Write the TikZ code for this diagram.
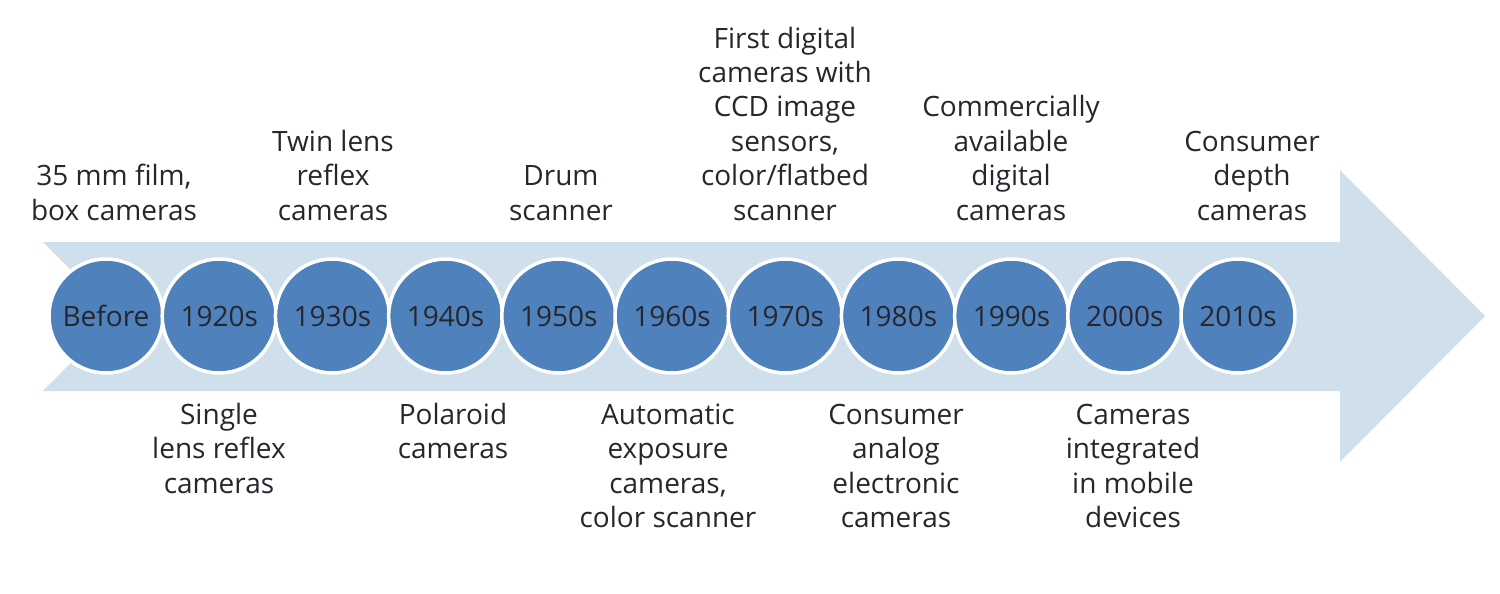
\documentclass[tikz,border=0pt]{standalone}
\usepackage{fontspec}
\setmainfont{Open Sans}
\definecolor{arrowblue}{RGB}{207,224,236}
\definecolor{circblue}{RGB}{79,129,189}
\definecolor{txt}{RGB}{38,38,45}
\begin{document}
\begin{tikzpicture}[x=0.5pt,y=-0.5pt,
  lbl/.style={align=center, anchor=base, inner sep=0pt, text=txt, font=\fontsize{14pt}{17.2pt}\selectfont},
  era/.style={circle, fill=circblue, draw=white, line width=1.75pt, minimum size=57pt, inner sep=0pt, text=txt, font=\fontsize{14pt}{16pt}\selectfont}]
\useasboundingbox (0,0) rectangle (1500,594);
\fill[arrowblue] (43,242) -- (1340,242) -- (1340,170) -- (1485,316) -- (1340,462) -- (1340,391) -- (43,391) -- (117,316) -- cycle;
\foreach \t [count=\i from 0] in {Before,1920s,1930s,1940s,1950s,1960s,1970s,1980s,1990s,2000s,2010s}
  \node[era] (c\i) at ({106+\i*113.2},316) {\t};
% top labels (anchored at the baseline of the last line)
\node[lbl] (t0) at (114,220) {35 mm film,\\box cameras};
\node[lbl] (t2) at (333,220) {Twin lens\\reflex\\cameras};
\node[lbl] (t4) at (561,220) {Drum\\scanner};
\node[lbl] (t6) at (785,220) {First digital\\cameras with\\CCD image\\sensors,\\color/flatbed\\scanner};
\node[lbl] (t8) at (1011,220) {Commercially\\available\\digital\\cameras};
\node[lbl] (t10) at (1252,220) {Consumer\\depth\\cameras};
% bottom labels
\node[lbl] (b1) at (219,493) {Single\\lens reflex\\cameras};
\node[lbl] (b3) at (453,458.5) {Polaroid\\cameras};
\node[lbl] (b5) at (668,527.5) {Automatic\\exposure\\cameras,\\color scanner};
\node[lbl] (b7) at (896,527.5) {Consumer\\analog\\electronic\\cameras};
\node[lbl] (b9) at (1133,527.5) {Cameras\\integrated\\in mobile\\devices};
\end{tikzpicture}
\end{document}
